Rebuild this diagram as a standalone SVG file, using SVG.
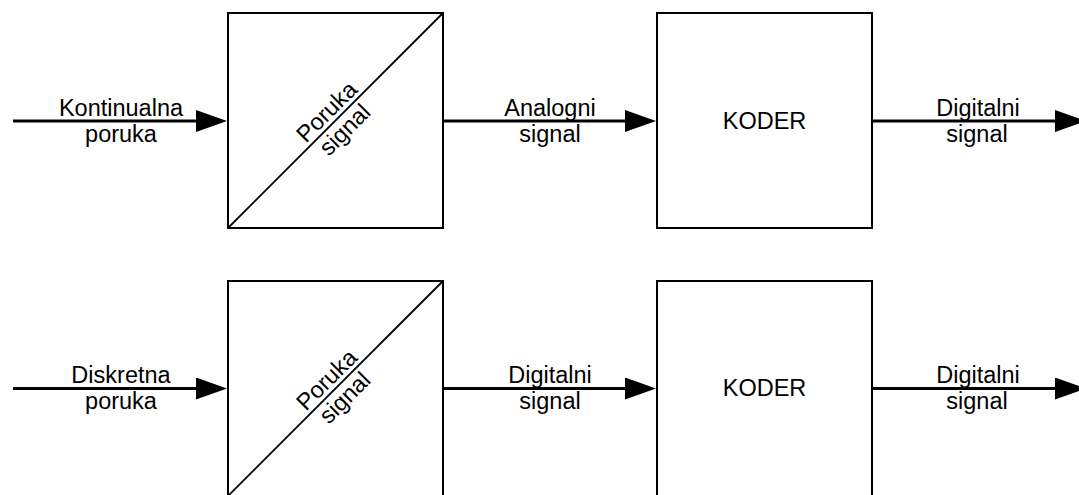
<svg xmlns="http://www.w3.org/2000/svg" width="1079" height="495" viewBox="0 0 1079 495">
<style>
  .box { fill: #ffffff; stroke: #000000; stroke-width: 2; }
  .diag { stroke: #000000; stroke-width: 1.8; fill: none; }
  .conn { stroke: #000000; stroke-width: 3; fill: none; marker-end: url(#arrow); }
  .lbl { font-family: "Liberation Sans", Arial, sans-serif; font-size: 23.5px; fill: #000000; text-anchor: middle; }
</style>
<defs>
  <marker id="arrow" viewBox="0 0 31 22" refX="21" refY="11" markerWidth="31" markerHeight="22" markerUnits="userSpaceOnUse" orient="auto">
    <path d="M0,0 L31,11 L0,22 Z" fill="#000000"/>
  </marker>
</defs>
<rect width="1079" height="495" fill="#ffffff"/>

<g id="connectors">
  <line class="conn" x1="13" y1="121" x2="217" y2="121"/>
  <line class="conn" x1="443" y1="121" x2="646" y2="121"/>
  <line class="conn" x1="872" y1="121" x2="1076" y2="121"/>
  <line class="conn" x1="13" y1="388.5" x2="217" y2="388.5"/>
  <line class="conn" x1="443" y1="388.5" x2="646" y2="388.5"/>
  <line class="conn" x1="872" y1="388.5" x2="1076" y2="388.5"/>
</g>

<g id="label-kontinualna">
  <text class="lbl" x="121" y="115.5">Kontinualna</text>
  <text class="lbl" x="121" y="141.5">poruka</text>
</g>
<g id="label-analogni">
  <text class="lbl" x="550" y="115.5">Analogni</text>
  <text class="lbl" x="550" y="141.5">signal</text>
</g>
<g id="label-digitalni-top">
  <text class="lbl" x="978" y="115.5">Digitalni</text>
  <text class="lbl" x="977" y="141.5">signal</text>
</g>
<g id="label-diskretna">
  <text class="lbl" x="121" y="383">Diskretna</text>
  <text class="lbl" x="121" y="409">poruka</text>
</g>
<g id="label-digitalni-mid">
  <text class="lbl" x="550" y="383">Digitalni</text>
  <text class="lbl" x="550" y="409">signal</text>
</g>
<g id="label-digitalni-bottom">
  <text class="lbl" x="978" y="383">Digitalni</text>
  <text class="lbl" x="977" y="409">signal</text>
</g>

<g id="converter-top">
  <rect class="box" x="228" y="13" width="215" height="215"/>
  <line class="diag" x1="228" y1="228" x2="443" y2="13"/>
  <g transform="translate(335.5,120.5) rotate(-45)">
    <text class="lbl" x="0" y="-4.5">Poruka</text>
    <text class="lbl" x="0" y="21">signal</text>
  </g>
</g>
<g id="koder-top">
  <rect class="box" x="657" y="13" width="215" height="215"/>
  <text class="lbl" x="764.5" y="128.5">KODER</text>
</g>

<g id="converter-bottom">
  <rect class="box" x="228" y="281" width="215" height="215"/>
  <line class="diag" x1="228" y1="496" x2="443" y2="281"/>
  <g transform="translate(335.5,388.5) rotate(-45)">
    <text class="lbl" x="0" y="-4.5">Poruka</text>
    <text class="lbl" x="0" y="21">signal</text>
  </g>
</g>
<g id="koder-bottom">
  <rect class="box" x="657" y="281" width="215" height="215"/>
  <text class="lbl" x="764.5" y="396">KODER</text>
</g>
</svg>
